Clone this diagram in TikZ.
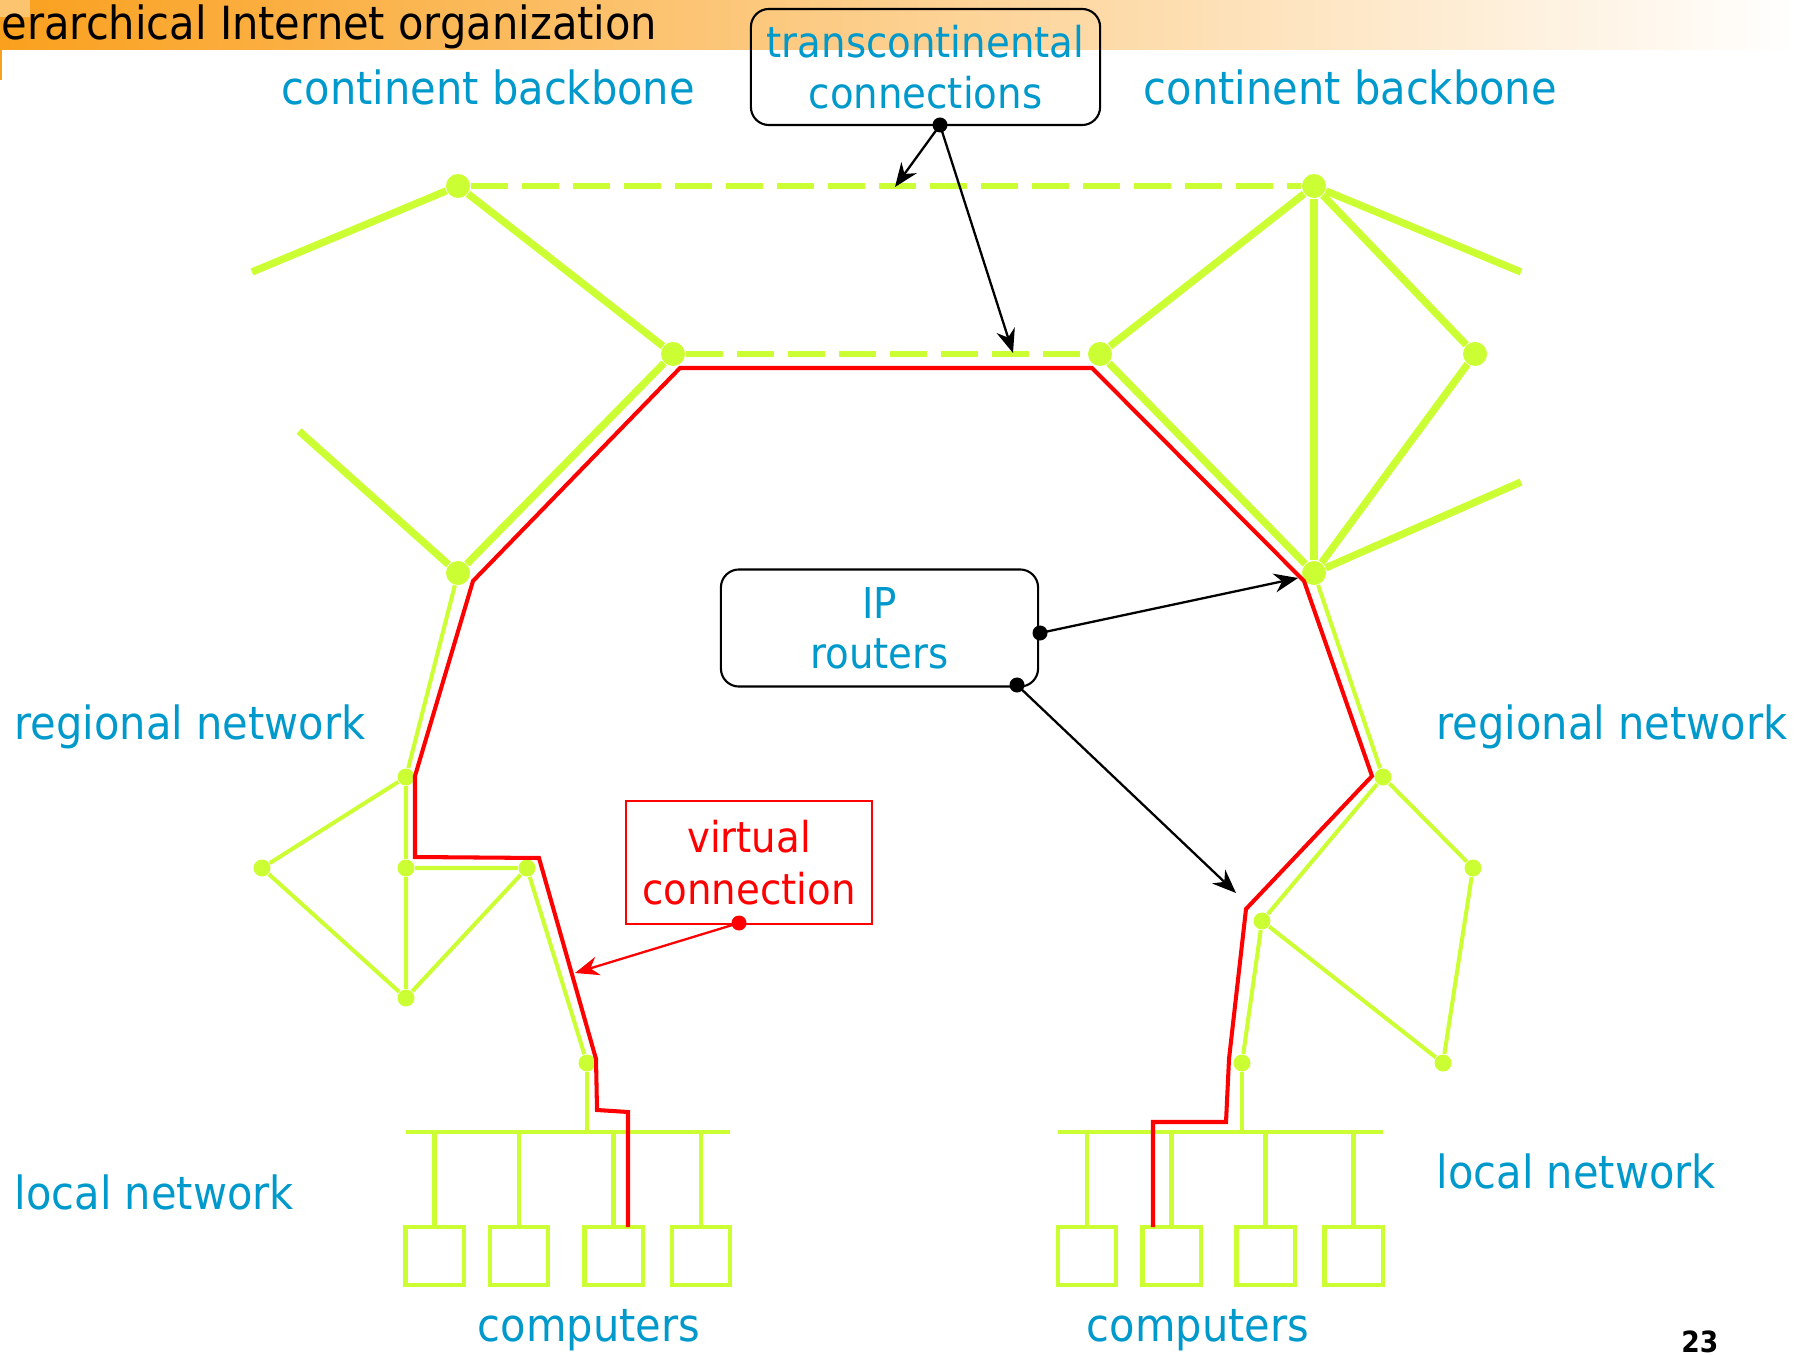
\documentclass[tikz,border=0pt]{standalone}
\usepackage{fontspec}
\setmainfont{DejaVu Sans}[FakeStretch=0.91]
\usetikzlibrary{arrows.meta}
\definecolor{netgreen}{RGB}{204,255,51}
\definecolor{labelblue}{RGB}{0,153,204}
\definecolor{hdrorange}{RGB}{250,160,30}
\definecolor{hdrpeach}{RGB}{253,212,185}
\definecolor{hdrlight}{RGB}{252,196,110}
\tikzset{>=Stealth,every node/.style={font=\fontsize{13}{14.5}\selectfont},
  trunk/.style={netgreen,line width=2.1pt},trunkdash/.style={netgreen,line width=1.8pt,dash pattern=on 0.37cm off 0.14cm},
  link/.style={netgreen,line width=1.15pt},vlink/.style={red,line width=1.15pt,line join=miter},
  hub/.style={circle,fill=netgreen,inner sep=0pt,minimum size=0.24cm},
  router/.style={circle,fill=netgreen,inner sep=0pt,minimum size=0.17cm},
  pc/.style={draw=netgreen,line width=1.15pt,minimum width=0.58cm,minimum height=0.58cm,inner sep=0pt},
  callout/.style={draw,rounded corners=0.18cm,line width=0.6pt,align=center,text=labelblue,font=\fontsize{12.1}{14.3}\selectfont},
  dot/.style={circle,fill,inner sep=0pt,minimum size=0.15cm},
  lbl/.style={text=labelblue,inner sep=0pt,anchor=base west},
  pointer/.style={-{Stealth[length=6.8pt,width=5.4pt]},line width=0.65pt}}

\begin{document}
\begin{tikzpicture}[x=0.01cm,y=-0.01cm]
\useasboundingbox (0,0) rectangle (1797,1355);
\shade[left color=hdrorange,middle color=hdrpeach,right color=white] (0,0) rectangle (1797,50);
\fill[hdrlight] (0,0) rectangle (30,17);\fill[hdrorange] (0,50) rectangle (2,80);
\node[anchor=base west,inner sep=0pt] (title) at (1,40) {erarchical Internet organization};
% backbone
\node[hub] (A) at (458,186) {};\node[hub] (B) at (1314,186) {};\node[hub] (C) at (673,354) {};
\node[hub] (D) at (1100,354) {};\node[hub] (E) at (458,573) {};\node[hub] (F) at (1314,573) {};\node[hub] (G) at (1475,354) {};
\coordinate (Aw) at (252,272);\coordinate (Ew) at (299,431);\coordinate (Be) at (1521,272);\coordinate (Fe) at (1521,482);
\draw[trunkdash] (A)--(B);\draw[trunkdash] (C)--(D);
\draw[trunk] (Aw)--(A)--(C)--(E)--(Ew);\draw[trunk] (D)--(B)--(Be);\draw[trunk] (B)--(F);\draw[trunk] (B)--(G)--(F);
\draw[trunk] (D)--(F)--(Fe);
% regional networks
\node[router] (R1) at (406,777) {};\node[router] (R2) at (406,868) {};\node[router] (R3) at (527,868) {};
\node[router] (R4) at (406,998) {};\node[router] (R5) at (262,868) {};\node[router] (R6) at (587,1063) {};
\draw[link] (E)--(R1)--(R5)--(R4)--(R2)--(R1);\draw[link] (R2)--(R3)--(R4);\draw[link] (R3)--(R6);
\node[router] (Q1) at (1383,777) {};\node[router] (Q2) at (1473,868) {};\node[router] (Q3) at (1262,921) {};
\node[router] (Q4) at (1242,1063) {};\node[router] (Q5) at (1443,1063) {};
\draw[link] (F)--(Q1)--(Q2)--(Q5)--(Q3)--(Q1);\draw[link] (Q3)--(Q4);
% local networks
\coordinate (lbusW) at (406,1132);\coordinate (lbusE) at (730,1132);\draw[link] (lbusW)--(lbusE);\draw[link] (R6)--(R6 |- lbusW);
\foreach \x [count=\i] in {434.5,519,613.5,701}{\node[pc] (l\i) at (\x,1256) {};\draw[link] (l\i.north)--(l\i.north |- lbusW);}
\coordinate (rbusW) at (1058,1132);\coordinate (rbusE) at (1383,1132);\draw[link] (rbusW)--(rbusE);\draw[link] (Q4)--(Q4 |- rbusW);
\foreach \x [count=\i] in {1087,1171.5,1265.5,1353.5}{\node[pc] (r\i) at (\x,1256) {};\draw[link] (r\i.north)--(r\i.north |- rbusW);}
% virtual connection
\draw[vlink] (628,1227)--(628,1112)--(597,1110)--(596,1059)--(539,858)--(415,857)--(415,776)--(473,581)--(680,368)
  --(1092,368)--(1304,581)--(1372,776)--(1246,909)--(1229,1059)--(1226,1122)--(1153,1122)--(1153,1227);
% callouts
\node[callout,minimum width=3.49cm,minimum height=1.16cm] (tc) at (925.5,67) {transcontinental\\connections};
\node[callout,minimum width=3.17cm,minimum height=1.17cm] (ip) at (879.5,628) {IP\\routers};
\node[draw=red,line width=0.4pt,text=red,align=center,minimum width=2.46cm,minimum height=1.23cm,font=\fontsize{12.1}{14.8}\selectfont] (vc) at (749,862.5) {virtual\\connection};
\node[dot] (tcdot) at (940,125) {};\coordinate (tcA) at (895,187);\coordinate (tcB) at (1013,353);
\draw[pointer] (tcdot.center)--(tcA);\draw[pointer] (tcdot.center)--(tcB);
\node[dot] (ipdot1) at (1040,633) {};\node[dot] (ipdot2) at (1017,685) {};\coordinate (ipA) at (1298,578);\coordinate (ipB) at (1236,893);
\draw[pointer] (ipdot1.center)--(ipA);\draw[pointer] (ipdot2.center)--(ipB);
\node[dot,red] (vcdot) at (739,923) {};\coordinate (vcA) at (575,973);\draw[pointer,red] (vcdot.center)--(vcA);
% labels
\node[lbl] (cbL) at (281,105) {continent backbone};\node[lbl] (cbR) at (1143,105) {continent backbone};
\node[lbl] (rnL) at (14,739) {regional network};\node[lbl] (rnR) at (1436,739) {regional network};
\node[lbl] (lnL) at (14,1209) {local network};\node[lbl] (lnR) at (1436,1188) {local network};
\node[lbl,anchor=base] (pcL) at (589,1341) {computers};\node[lbl,anchor=base] (pcR) at (1198,1341) {computers};
\node[anchor=base east,inner sep=0pt,font=\bfseries\fontsize{8.3}{10}\selectfont] (pg) at (1719,1352) {23};
\end{tikzpicture}
\end{document}
